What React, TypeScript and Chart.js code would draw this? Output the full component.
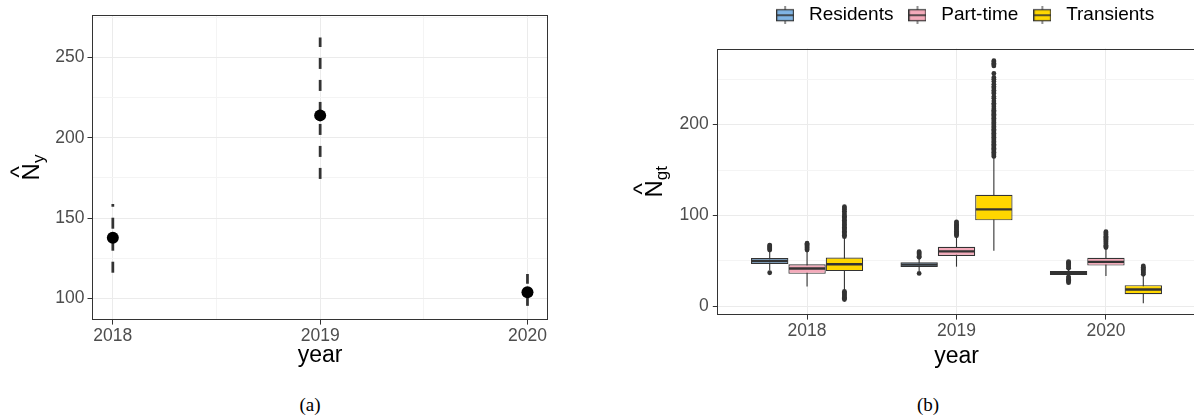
import React, { useEffect, useRef } from 'react';
import { Chart, registerables } from 'chart.js';
Chart.register(...registerables);

const FONT = "'Liberation Sans', Arial, Helvetica, sans-serif";

// ---------- Panel (a) ----------
const yearsA = [2018, 2019, 2020];
const estimateA = [137.9, 213.9, 104];
const lowerA = [116.1, 174.4, 95.5];
const upperA = [158.8, 262.3, 115.3];
const xTicksA = [2018, 2018.5, 2019, 2019.5, 2020];
const yTicksA = [100, 125, 150, 175, 200, 225, 250, 275];
const yMajorA = [100, 150, 200, 250];

// ---------- Panel (b) ----------
const groupsB = [1, 2, 3];
const yearLabelsB = ['2018', '2019', '2020'];
const seriesNames = ['Residents', 'Part-time', 'Transients'];
const seriesColors = ['#80B4E4', '#F4AABA', '#FFD700'];
const dodgeB = [-0.25, 0, 0.25];
const yTicksB = [0, 50, 100, 150, 200, 250];
const yMajorB = [0, 100, 200];
// [lower whisker, q1, median, q3, upper whisker] per year
const residentsStats = [[39.5, 46.3, 49.6, 53, 59.5], [38.5, 43, 45.6, 48.3, 53], [33, 34.2, 36.4, 38.6, 40]];
const partTimeStats = [[21.5, 35.5, 41.3, 46, 61], [43.4, 55.1, 60.3, 65.4, 76.5], [33, 44.6, 48.7, 53.3, 63.5]];
const transientsStats = [[16.5, 38.5, 46, 53.5, 75.5], [61, 94.5, 106.6, 122.7, 164], [3, 13, 18.3, 23, 34]];
const residentsOut = [
  [36.7, 61.7, 62.8, 64, 65.2, 66.3, 67.2],
  [36, 53.7, 55, 56.3, 57.6, 58.8, 59.9],
  [25.8, 27, 28.3, 29.6, 30.9, 32.2, 41.6, 42.9, 44.2, 45.5, 46.8, 48, 48.8],
];
const partTimeOut = [
  [61.8, 63, 64.2, 65.5, 66.8, 68, 69.2],
  [77.5, 78.8, 80, 81.2, 82.5, 83.8, 85, 86.3, 87.5, 88.8, 90, 91.5, 92.8],
  [64.5, 65.8, 67, 68.3, 69.5, 70.8, 72, 73.3, 74.5, 75.8, 77, 78.3, 79.5, 80.8, 81.9],
];
const transientsOut = [
  [7.2, 8.5, 9.8, 11, 12.3, 13.6, 14.8, 16, 76.5, 78, 79.5, 81, 82.5, 84, 85.5, 87, 88.5, 90, 91.5, 93, 94.5, 96, 97.5, 99, 100.5, 102.5, 104.5, 106.5, 108, 109.5],
  [165, 166.5, 168, 169.5, 171, 172.5, 174, 175.5, 177, 178.5, 180, 181.5, 183, 184.5, 186, 187.5, 189, 190.5, 192, 193.5, 195, 196.5, 198, 199.5, 201, 202.5, 204, 205.5, 207, 208.5, 210, 211.5, 213, 214.5, 216, 217.5, 219.8, 222, 223.5, 226, 229, 231, 234.5, 236, 238, 240.5, 242, 244.5, 247.5, 250, 252, 256.5, 264.8, 266.3, 267.8, 269.3, 270.6],
  [35, 36.3, 37.6, 38.9, 40.2, 41.5, 42.8, 44.2],
];
const statsB = [residentsStats, partTimeStats, transientsStats];
const outliersB = [residentsOut, partTimeOut, transientsOut];

const tickFont = { family: FONT, size: 17.5, lineHeight: 1 };
const GRID_MAJOR = '#EBEBEB';
const GRID_MINOR = '#F4F4F4';
const TICK_COLOR = '#4D4D4D';

function framePlugin() {
  return {
    id: 'frame',
    afterDraw(chart: any) {
      const { ctx, chartArea: ca } = chart;
      ctx.save();
      ctx.strokeStyle = '#333333';
      ctx.lineWidth = 1;
      const l = Math.round(ca.left) + 0.5, t = Math.round(ca.top) + 0.5;
      const r = Math.round(ca.right) - 0.5, b = Math.round(ca.bottom) - 0.5;
      ctx.strokeRect(l, t, r - l, b - t);
      ctx.restore();
    },
  };
}

function yTitlePlugin(main: string, sub: string, offset: number, hatY: number) {
  return {
    id: 'yTitle',
    afterDraw(chart: any) {
      const { ctx, chartArea: ca } = chart;
      ctx.save();
      ctx.fillStyle = '#000';
      ctx.textBaseline = 'alphabetic';
      ctx.font = `24px ${FONT}`;
      const wN = ctx.measureText(main).width;
      ctx.font = `17px ${FONT}`;
      const wS = ctx.measureText(sub).width;
      const total = wN + wS;
      ctx.translate(ca.left - offset, (ca.top + ca.bottom) / 2);
      ctx.rotate(-Math.PI / 2);
      const x0 = -total / 2;
      ctx.font = `24px ${FONT}`;
      ctx.textAlign = 'left';
      ctx.fillText(main, x0, 0);
      ctx.textAlign = 'center';
      ctx.fillText('^', x0 + wN / 2, hatY);
      ctx.font = `17px ${FONT}`;
      ctx.textAlign = 'left';
      ctx.fillText(sub, x0 + wN, 5);
      ctx.restore();
    },
  };
}

const boxDecorPlugin = {
  id: 'boxDecor',
  beforeDatasetDraw(chart: any, args: any) {
    const ds = chart.data.datasets[args.index];
    if (ds.type !== 'bar') return;
    const st = statsB[ds.seriesIndex];
    const y = chart.scales.y;
    const ctx = chart.ctx;
    ctx.save();
    ctx.strokeStyle = '#333333';
    ctx.lineWidth = 1.1;
    args.meta.data.forEach((bar: any, g: number) => {
      ctx.beginPath();
      ctx.moveTo(bar.x, y.getPixelForValue(st[g][0]));
      ctx.lineTo(bar.x, y.getPixelForValue(st[g][4]));
      ctx.stroke();
    });
    ctx.restore();
  },
  afterDatasetDraw(chart: any, args: any) {
    const ds = chart.data.datasets[args.index];
    if (ds.type !== 'bar') return;
    const st = statsB[ds.seriesIndex];
    const y = chart.scales.y;
    const ctx = chart.ctx;
    ctx.save();
    ctx.strokeStyle = '#333333';
    ctx.lineWidth = 2.4;
    args.meta.data.forEach((bar: any, g: number) => {
      const py = y.getPixelForValue(st[g][2]);
      ctx.beginPath();
      ctx.moveTo(bar.x - bar.width / 2 + 0.6, py);
      ctx.lineTo(bar.x + bar.width / 2 - 0.6, py);
      ctx.stroke();
    });
    ctx.restore();
  },
};

const legendCenterPlugin = {
  id: 'legendCenter',
  afterUpdate(chart: any) {
    const lg = chart.legend;
    if (!lg) return;
    const ca = chart.chartArea;
    const target = (ca.left + ca.right) / 2 + 6;
    const dx = target - (lg.left + lg.right) / 2;
    lg.left += dx;
    lg.right += dx;
  },
};

function makeKey(color: string) {
  const c = document.createElement('canvas');
  c.width = 18;
  c.height = 18;
  const x = c.getContext('2d')!;
  x.strokeStyle = '#333333';
  x.lineWidth = 1.1;
  x.beginPath();
  x.moveTo(9, 0);
  x.lineTo(9, 18);
  x.stroke();
  x.fillStyle = color;
  x.fillRect(0.6, 3.5, 16.8, 11);
  x.lineWidth = 1.2;
  x.strokeRect(0.6, 3.5, 16.8, 11);
  x.lineWidth = 1.6;
  x.beginPath();
  x.moveTo(0.6, 9);
  x.lineTo(17.4, 9);
  x.stroke();
  return c;
}

export default function App() {
  const refA = useRef<HTMLCanvasElement>(null);
  const refB = useRef<HTMLCanvasElement>(null);

  useEffect(() => {
    const cfgA: any = {
      type: 'scatter',
      data: {
        datasets: [
          {
            type: 'scatter',
            data: yearsA.map((x, i) => ({ x, y: estimateA[i] })),
            pointRadius: 6,
            pointHoverRadius: 6,
            backgroundColor: '#000',
            borderWidth: 0,
          },
          ...yearsA.map((x, i) => ({
            type: 'line',
            data: [{ x, y: lowerA[i] }, { x, y: upperA[i] }],
            borderColor: '#333333',
            borderWidth: 2.75,
            borderDash: [11, 11],
            borderCapStyle: 'butt',
            pointRadius: 0,
            fill: false,
          })),
        ],
      },
      options: {
        responsive: false,
        animation: false,
        events: [],
        layout: { padding: { top: 15, right: 31.8, left: 0, bottom: 0 } },
        plugins: { legend: { display: false }, tooltip: { enabled: false } },
        scales: {
          x: {
            type: 'linear',
            min: 2017.9,
            max: 2020.1,
            bounds: 'data',
            afterBuildTicks: (s: any) => { s.ticks = xTicksA.map((v) => ({ value: v })); },
            afterFit: (s: any) => { s.height = 60; },
            ticks: {
              autoSkip: false, maxRotation: 0, minRotation: 0, padding: 2.5,
              color: TICK_COLOR, font: tickFont,
              callback: (v: number) => (yearsA.includes(v) ? String(v) : ''),
            },
            grid: {
              color: (c: any) => (yearsA.includes(c.tick?.value) ? GRID_MAJOR : GRID_MINOR),
              lineWidth: 1,
              tickColor: (c: any) => (yearsA.includes(c.tick?.value) ? '#333333' : 'rgba(0,0,0,0)'),
              tickLength: 4.6,
              tickWidth: 1,
            },
            border: { display: false },
            title: { display: true, text: 'year', color: '#000', font: { family: FONT, size: 23, lineHeight: 1.2 }, padding: { top: 0, bottom: 10.2 } },
          },
          y: {
            type: 'linear',
            min: 86.7,
            max: 276.3,
            bounds: 'data',
            afterBuildTicks: (s: any) => { s.ticks = yTicksA.map((v) => ({ value: v })); },
            afterFit: (s: any) => { s.width = 92.1; },
            ticks: {
              autoSkip: false, padding: 3, color: TICK_COLOR, font: tickFont,
              callback: (v: number) => (yMajorA.includes(v) ? String(v) : ''),
            },
            grid: {
              color: (c: any) => (yMajorA.includes(c.tick?.value) ? GRID_MAJOR : GRID_MINOR),
              lineWidth: 1,
              tickColor: (c: any) => (yMajorA.includes(c.tick?.value) ? '#333333' : 'rgba(0,0,0,0)'),
              tickLength: 4.6,
              tickWidth: 1,
            },
            border: { display: false },
            title: { display: false },
          },
        },
      },
      plugins: [framePlugin(), yTitlePlugin('N', 'y', 53.5, -12)],
    };

    const keys = seriesColors.map((c) => makeKey(c));

    const cfgB: any = {
      type: 'bar',
      data: {
        datasets: [
          ...seriesNames.map((name, s) => ({
            type: 'scatter',
            label: name + ' outliers',
            data: outliersB[s].flatMap((vals, g) => vals.map((y) => ({ x: groupsB[g] + dodgeB[s], y }))),
            pointRadius: 2.4,
            pointHoverRadius: 2.4,
            backgroundColor: '#333333',
            borderWidth: 0,
            showLine: false,
          })),
          ...seriesNames.map((name, s) => ({
            type: 'bar',
            label: name,
            seriesIndex: s,
            data: statsB[s].map((st, g) => ({ x: groupsB[g], y: [st[1], st[3]] })),
            backgroundColor: seriesColors[s],
            borderColor: '#333333',
            borderWidth: 1.2,
            borderSkipped: false,
            categoryPercentage: 0.75,
            barPercentage: 1,
          })),
        ],
      },
      options: {
        responsive: false,
        animation: false,
        events: [],
        layout: { padding: 0 },
        plugins: {
          tooltip: { enabled: false },
          title: { display: true, text: '', weight: 500, font: { size: 10, lineHeight: 1 }, padding: { top: 0, bottom: 3.8 } },
          legend: {
            display: true,
            position: 'top',
            labels: {
              usePointStyle: true,
              pointStyleWidth: 28.6,
              padding: 9.7,
              color: '#000',
              font: { family: FONT, size: 19 },
              generateLabels: () =>
                seriesNames.map((name, s) => ({
                  text: name,
                  fillStyle: seriesColors[s],
                  strokeStyle: '#333333',
                  lineWidth: 0,
                  pointStyle: keys[s],
                  hidden: false,
                  datasetIndex: s + 3,
                  fontColor: '#000',
                })),
            },
          },
        },
        scales: {
          x: {
            type: 'linear',
            min: 0.4,
            max: 3.6,
            bounds: 'data',
            offset: false,
            afterBuildTicks: (s: any) => { s.ticks = groupsB.map((v) => ({ value: v })); },
            afterFit: (s: any) => { s.height = 60; },
            ticks: {
              autoSkip: false, maxRotation: 0, minRotation: 0, padding: 2.5,
              color: TICK_COLOR, font: tickFont,
              callback: (v: number) => yearLabelsB[groupsB.indexOf(v)] ?? '',
            },
            grid: { offset: false, color: GRID_MAJOR, lineWidth: 1, tickColor: '#333333', tickLength: 4.6, tickWidth: 1 },
            border: { display: false },
            title: { display: true, text: 'year', color: '#000', font: { family: FONT, size: 23, lineHeight: 1.2 }, padding: { top: 0, bottom: 5 } },
          },
          y: {
            type: 'linear',
            min: -9.9,
            max: 284,
            bounds: 'data',
            afterBuildTicks: (s: any) => { s.ticks = yTicksB.map((v) => ({ value: v })); },
            afterFit: (s: any) => { s.width = 117.4; },
            ticks: {
              autoSkip: false, padding: 4, color: TICK_COLOR, font: tickFont,
              callback: (v: number) => (yMajorB.includes(v) ? String(v) : ''),
            },
            grid: {
              color: (c: any) => (yMajorB.includes(c.tick?.value) ? GRID_MAJOR : GRID_MINOR),
              lineWidth: 1,
              tickColor: (c: any) => (yMajorB.includes(c.tick?.value) ? '#333333' : 'rgba(0,0,0,0)'),
              tickLength: 4.6,
              tickWidth: 1,
            },
            border: { display: false },
          },
        },
      },
      plugins: [boxDecorPlugin, legendCenterPlugin, framePlugin(), yTitlePlugin('N', 'gt', 55.7, -12)],
    };

    const a = new Chart(refA.current!, cfgA);
    const b = new Chart(refB.current!, cfgB);
    return () => {
      a.destroy();
      b.destroy();
    };
  }, []);

  const captionStyle: any = {
    position: 'absolute',
    top: 394,
    width: 100,
    textAlign: 'center',
    font: "19px 'Liberation Serif', 'Times New Roman', serif",
    lineHeight: '22px',
    color: '#000',
  };

  return (
    <div style={{ position: 'absolute', left: 0, top: 0, width: 1194, height: 417, overflow: 'hidden', background: '#fff' }}>
      <canvas ref={refA} width={580} height={380} style={{ position: 'absolute', left: 0, top: 0 }} />
      <canvas ref={refB} width={598} height={379} style={{ position: 'absolute', left: 600, top: -4 }} />
      <div style={{ ...captionStyle, left: 260 }}>(a)</div>
      <div style={{ ...captionStyle, left: 878 }}>(b)</div>
    </div>
  );
}
